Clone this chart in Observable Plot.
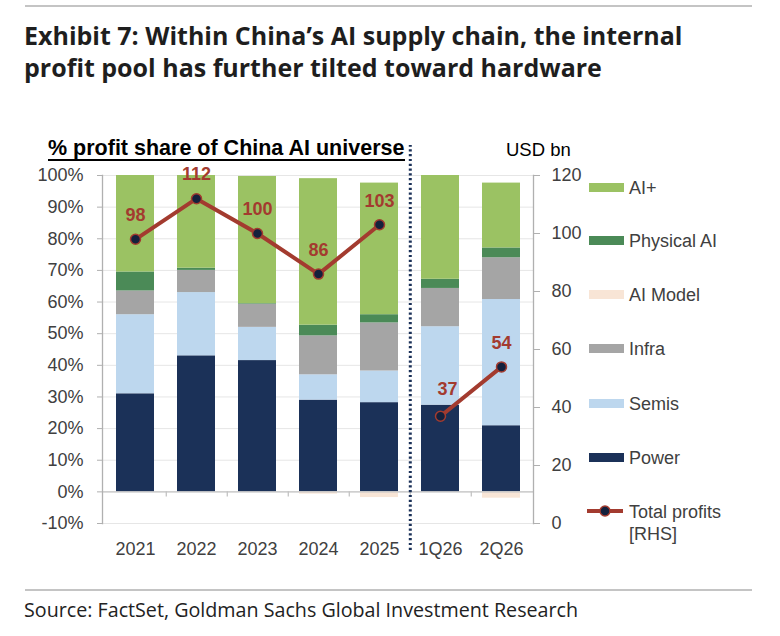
<!DOCTYPE html>
<html>
<head>
<meta charset="utf-8">
<script src="https://cdn.jsdelivr.net/npm/d3@7"></script>
<script src="https://cdn.jsdelivr.net/npm/@observablehq/plot@0.6"></script>
<style>
  html, body { margin: 0; padding: 0; background: #fff; }
  #page { position: relative; width: 780px; height: 636px; overflow: hidden; }
  .abs { position: absolute; white-space: nowrap; }
  #topline { left: 25px; top: 5px; width: 727px; height: 2px; background: #c4c4c4; }
  #title { left: 24px; top: 19px; font-family: "Open Sans", sans-serif; font-weight: 700; font-size: 25px; line-height: 32px; color: #1e1e1e; }
  #subtitle { left: 48px; top: 137px; font-family: "Liberation Sans", Arial, sans-serif; font-weight: 700; font-size: 21.5px; color: #000; border-bottom: 2px solid #000; padding-right: 1px; line-height: 22px; }
  #usd { left: 506px; top: 139px; font-family: "Liberation Sans", Arial, sans-serif; font-size: 18.5px; color: #000; }
  #chart { left: 0; top: 130px; }
  .leg { position: absolute; left: 589px; font-family: "Liberation Sans", Arial, sans-serif; font-size: 18px; color: #404040; }
  .sw { position: absolute; left: 0; width: 35px; height: 9px; }
  .lab { position: absolute; left: 40px; top: -10px; white-space: nowrap; line-height: 22px; }
  #footline { left: 25px; top: 589px; width: 727px; height: 2px; background: #c4c4c4; }
  #source { left: 24px; top: 596px; font-family: "Open Sans", sans-serif; font-size: 19.7px; color: #222; }
</style>
</head>
<body>
<div id="page">
  <div id="topline" class="abs"></div>
  <div id="title" class="abs">Exhibit 7: Within China’s AI supply chain, the internal<br>profit pool has further tilted toward hardware</div>
  <div id="subtitle" class="abs">% profit share of China AI universe</div>
  <div id="usd" class="abs">USD bn</div>
  <div id="chart" class="abs"></div>
  <div id="legend"></div>
  <div id="footline" class="abs"></div>
  <div id="source" class="abs">Source: FactSet, Goldman Sachs Global Investment Research</div>
</div>
<script>
// ---- data ----
const categories = ["2021", "2022", "2023", "2024", "2025", "1Q26", "2Q26"];
const power      = [31.0, 43.0, 41.5, 29.0, 28.2, 27.4, 20.9];
const semis      = [25.0, 20.0, 10.5,  8.0, 10.0, 24.8, 39.9];
const aiModel    = [ 0.0,  0.0,  0.0, -0.7, -1.8,  0.0, -2.0];
const infra      = [ 7.5,  7.0,  7.3, 12.3, 15.2, 12.1, 13.2];
const physicalAI = [ 6.0,  0.7,  0.2,  3.4,  2.6,  2.9,  3.1];
const aiPlus     = [30.5, 29.3, 40.2, 46.3, 41.6, 32.8, 20.5];
const totalProfits = [98, 112, 100, 86, 103, 37, 54];

const seriesNames  = ["Power", "Semis", "AI Model", "Infra", "Physical AI", "AI+"];
const seriesColors = ["#1b3158", "#bdd7ee", "#f8e5d6", "#a5a5a5", "#4b8a57", "#9bc263"];
const leftTicks  = [-10, 0, 10, 20, 30, 40, 50, 60, 70, 80, 90, 100];
const rightTicks = [0, 20, 40, 60, 80, 100, 120];

const lineColor = "#a33b2f";
const dotColor = "#14213d";

// ---- build tables ----
const seriesValues = [power, semis, aiModel, infra, physicalAI, aiPlus];
const shares = [];
seriesNames.forEach((s, i) => {
  categories.forEach((c, j) => shares.push({cat: c, series: s, value: seriesValues[i][j]}));
});
// right axis (0..120 USD bn) shares the vertical extent of left axis (-10..100 %)
const toLeft = v => v * 110 / 120 - 10;
const totals = categories.map((c, j) => ({cat: c, total: totalProfits[j], period: c.includes("Q") ? "Q" : "Y"}));

const W = 780, ML = 102, MR = 247, MT = 45, MB = 40, H = 433;
const padIn = 0.38, padOut = 0.19;
const step = (W - ML - MR) / (categories.length - padIn + 2 * padOut);

const chart = Plot.plot({
  width: W, height: H,
  marginLeft: ML, marginRight: MR, marginTop: MT, marginBottom: MB,
  style: {fontFamily: "'Liberation Sans', Arial, sans-serif", fontSize: "18px", color: "#404040", background: "transparent"},
  x: {domain: categories, paddingInner: padIn, paddingOuter: padOut, label: null},
  y: {domain: [-10, 100], label: null},
  color: {domain: seriesNames, range: seriesColors},
  marks: [
    Plot.gridY(leftTicks, {stroke: "#e6e6e6", strokeOpacity: 1}),
    Plot.barY(shares, {x: "cat", y: "value", fill: "series", order: seriesNames}),
    Plot.ruleY([0], {stroke: "#c4c4c4", strokeWidth: 1.3}),
    Plot.ruleX(categories.slice(0, -1), {x: d => d, dx: step / 2, y1: 0, y2: -1.6, stroke: "#c4c4c4", strokeWidth: 1.3}),
    Plot.frame({anchor: "left", stroke: "#b0b0b0", strokeWidth: 1.3}),
    Plot.frame({anchor: "right", stroke: "#b0b0b0", strokeWidth: 1.3}),
    Plot.axisY(leftTicks, {anchor: "left", tickSize: 5, tickPadding: 14, tickFormat: d => d + "%", stroke: "#b0b0b0", fill: "#404040", label: null}),
    Plot.axisY(rightTicks.map(toLeft), {anchor: "right", tickSize: 6, tickPadding: 12, tickFormat: d => Math.round((d + 10) * 120 / 110), stroke: "#b0b0b0", fill: "#404040", label: null}),
    Plot.axisX({anchor: "bottom", tickSize: 0, tickPadding: 19, fill: "#404040", label: null}),
    Plot.ruleX(["2025"], {x: d => d, dx: step / 2, y1: -18.5, y2: 109.5, stroke: "#1b3158", strokeWidth: 3, strokeDasharray: "2.2,2.6"}),
    Plot.line(totals, {x: "cat", y: d => toLeft(d.total), z: "period", stroke: lineColor, strokeWidth: 4}),
    Plot.dot(totals, {x: "cat", y: d => toLeft(d.total), r: 5, fill: dotColor, stroke: lineColor, strokeWidth: 1.5}),
    Plot.text(totals.filter(d => d.cat !== "1Q26"), {x: "cat", y: d => toLeft(d.total), text: d => String(d.total), dy: -24, fill: lineColor, stroke: "none", fontWeight: "bold", fontSize: 18, textAnchor: "middle"}),
    Plot.text(totals.filter(d => d.cat === "1Q26"), {x: "cat", y: d => toLeft(d.total), text: d => String(d.total), dy: -27, dx: 7, fill: lineColor, stroke: "none", fontWeight: "bold", fontSize: 18, textAnchor: "middle"})
  ]
});
document.getElementById("chart").appendChild(chart);

// ---- legend ----
const legend = document.getElementById("legend");
const legendRows = [
  {name: "AI+", y: 187}, {name: "Physical AI", y: 240}, {name: "AI Model", y: 294},
  {name: "Infra", y: 348}, {name: "Semis", y: 403}, {name: "Power", y: 457}
];
legendRows.forEach(r => {
  const i = seriesNames.indexOf(r.name);
  const div = document.createElement("div");
  div.className = "leg";
  div.style.top = r.y + "px";
  div.innerHTML = `<div class="sw" style="top:-4.5px;background:${seriesColors[i]}"></div><div class="lab">${r.name}</div>`;
  legend.appendChild(div);
});
const lt = document.createElement("div");
lt.className = "leg";
lt.style.top = "511px";
lt.innerHTML = `<svg style="position:absolute;left:-4px;top:-8px" width="44" height="16"><line x1="2" y1="8" x2="38" y2="8" stroke="${lineColor}" stroke-width="4"/><circle cx="20" cy="8" r="5" fill="${dotColor}" stroke="${lineColor}" stroke-width="1.5"/></svg><div class="lab">Total profits<br>[RHS]</div>`;
legend.appendChild(lt);
</script>
</body>
</html>
